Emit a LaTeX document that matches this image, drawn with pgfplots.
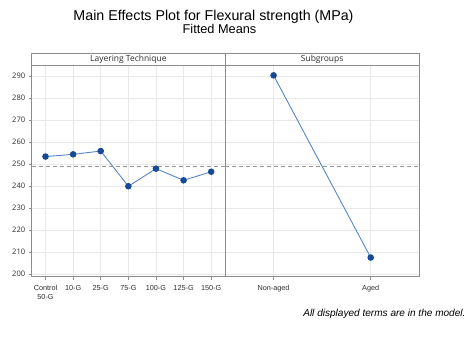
\documentclass[border=0pt]{standalone}
\usepackage{pgfplots}
\pgfplotsset{compat=1.18}
\usepackage{fontspec}
\setmainfont{Liberation Sans}
\newfontfamily\segoe{Open Sans}
\definecolor{lineblue}{RGB}{86,134,196}
\definecolor{markblue}{RGB}{22,73,150}
\definecolor{framegray}{RGB}{140,140,140}
\definecolor{gridgray}{RGB}{232,232,232}
\definecolor{txtgray}{RGB}{45,45,45}
\definecolor{refgray}{RGB}{150,150,150}
\pgfplotsset{
 panel/.style={
  scale only axis, height=211.7bp,
  ymin=198.8, ymax=295,
  ytick={200,210,...,290},
  grid=major, major grid style={gridgray, line width=0.5pt},
  axis line style={framegray, line width=0.8pt},
  tick style={framegray, line width=0.5pt},
  tick align=outside, major tick length=3bp,
  xtick pos=lower, ytick pos=left,
  clip=false,
  xticklabel style={font=\fontsize{7.3}{8.8}\selectfont, text=txtgray, align=center, yshift=-2bp},
  yticklabel style={font=\segoe\fontsize{7.6}{9}\selectfont, text=txtgray},
  /pgf/number format/assume math mode=true,
 },
 dataline/.style={lineblue, line width=0.9pt, mark=*, mark size=2.8bp, mark options={draw=markblue, fill=markblue}},
 refline/.style={refgray, line width=0.6pt, dash pattern=on 4bp off 3bp},
}
\begin{document}
\begin{tikzpicture}
\useasboundingbox (0,0) rectangle (473bp,-338bp);
\node[anchor=base, font=\fontsize{14.3}{16}\selectfont] at (213.5bp,-20bp) {Main Effects Plot for Flexural strength (MPa)};
\node[anchor=base, font=\fontsize{12.8}{15}\selectfont] at (219.5bp,-33.5bp) {Fitted Means};
\node[anchor=base east, font=\itshape\fontsize{10.1}{12}\selectfont] at (469bp,-316.5bp) {All displayed terms are in the model.};

\begin{axis}[panel, at={(31.7bp,-276.7bp)}, anchor=south west, width=193.3bp,
  xmin=-0.5, xmax=6.5, xtick={0,1,2,3,4,5,6},
  xticklabels={{Control\\50-G},10-G,25-G,75-G,100-G,125-G,150-G}]
\addplot[refline] coordinates {(-0.5,248.8) (6.5,248.8)};
\addplot[dataline] coordinates {(0,253.4)(1,254.4)(2,255.9)(3,239.9)(4,247.9)(5,242.6)(6,246.5)};
\draw[framegray, line width=0.8pt, fill=white] (rel axis cs:0,1) rectangle (rel axis cs:1,1.0553);
\node[font=\segoe\fontsize{8.5}{10}\selectfont, text=txtgray] at (rel axis cs:0.5,1.0276) {Layering Technique};
\end{axis}

\begin{axis}[panel, at={(225bp,-276.7bp)}, anchor=south west, width=194.3bp,
  xmin=-0.5, xmax=1.5, xtick={0,1},
  yticklabels={}, ytick style={draw=none},
  xticklabels={Non-aged,Aged}]
\addplot[refline] coordinates {(-0.5,248.8) (1.5,248.8)};
\addplot[dataline] coordinates {(0,290.3)(1,207.5)};
\draw[framegray, line width=0.8pt, fill=white] (rel axis cs:0,1) rectangle (rel axis cs:1,1.0553);
\node[font=\segoe\fontsize{8.5}{10}\selectfont, text=txtgray] at (rel axis cs:0.5,1.0276) {Subgroups};
\end{axis}
\end{tikzpicture}
\end{document}
